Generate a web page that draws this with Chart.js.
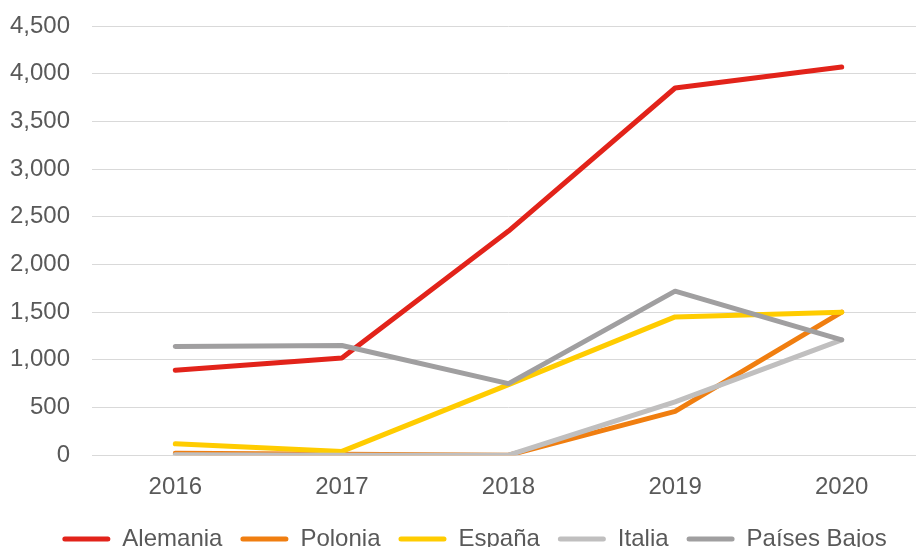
<!DOCTYPE html>
<html>
<head>
<meta charset="utf-8">
<script src="https://cdn.jsdelivr.net/npm/chart.js@4/dist/chart.umd.min.js"></script>
<style>
  html, body { margin: 0; padding: 0; background: #fff; overflow: hidden; }
  #wrap { width: 925px; height: 547px; position: relative; }
</style>
</head>
<body>
<div id="wrap"><canvas id="chart"></canvas></div>
<script>
// ─── Data ─────────────────────────────────────────────────────────────────────
const years = ["2016", "2017", "2018", "2019", "2020"];

const alemania    = [890, 1020, 2350, 3850, 4070];
const polonia     = [20, 10, 0, 460, 1500];
const espana      = [120, 40, 740, 1450, 1500];
const italia      = [5, 0, 0, 560, 1210];
const paisesBajos = [1140, 1150, 750, 1720, 1210];

const seriesNames  = ["Alemania", "Polonia", "España", "Italia", "Países Bajos"];
const seriesData   = [alemania, polonia, espana, italia, paisesBajos];
const seriesColors = ["#E2231A", "#F07E10", "#FFCC00", "#C0BFBF", "#A09FA0"];

// ─── Chart ────────────────────────────────────────────────────────────────────
const FONT = "'Liberation Sans', Arial, sans-serif";
const fmt = new Intl.NumberFormat("en-US");

// nudge the legend a bit (right and up), as in the original
const legendShift = {
  id: "legendShift",
  afterLayout(chart) {
    const lg = chart.legend;
    if (!lg) return;
    lg.left += 12;  lg.right += 12;
    lg.top  -= 3;   lg.bottom -= 3;
  }
};

new Chart(document.getElementById("chart"), {
  type: "line",
  data: {
    labels: years,
    datasets: seriesNames.map((name, i) => ({
      label: name,
      data: seriesData[i],
      borderColor: seriesColors[i],
      backgroundColor: seriesColors[i],
      borderWidth: 5,
      pointRadius: 0,
      tension: 0,
      borderCapStyle: "round",
      borderJoinStyle: "round",
      order: seriesNames.length - i   // later series drawn on top
    }))
  },
  options: {
    responsive: true,
    maintainAspectRatio: false,
    animation: false,
    layout: { padding: { top: 26, left: 0, right: 0, bottom: -17 } },
    scales: {
      x: {
        offset: true,
        grid: { display: false },
        border: { color: "#D9D9D9", width: 1 },
        ticks: { color: "#595959", font: { family: FONT, size: 24 }, padding: 10 }
      },
      y: {
        min: 0,
        max: 4500,
        afterFit: s => { s.width = 92; s.paddingTop = 0; s.paddingBottom = 0; },
        grid: { color: "#D9D9D9", lineWidth: 1, drawTicks: false },
        border: { display: false },
        ticks: {
          stepSize: 500,
          color: "#595959",
          font: { family: FONT, size: 24 },
          padding: 22,
          callback: v => fmt.format(v)
        }
      }
    },
    plugins: {
      tooltip: { enabled: false },
      legend: {
        position: "bottom",
        labels: {
          color: "#595959",
          font: { family: FONT, size: 24 },
          boxWidth: 48,
          boxHeight: 5,
          useBorderRadius: true,
          borderRadius: 2.5,
          padding: 18,
          sort: (a, b) => a.datasetIndex - b.datasetIndex,
          generateLabels: chart =>
            Chart.defaults.plugins.legend.labels.generateLabels(chart)
              .map(l => ({ ...l, lineWidth: 0 }))
        }
      }
    }
  },
  plugins: [legendShift]
});
</script>
</body>
</html>
